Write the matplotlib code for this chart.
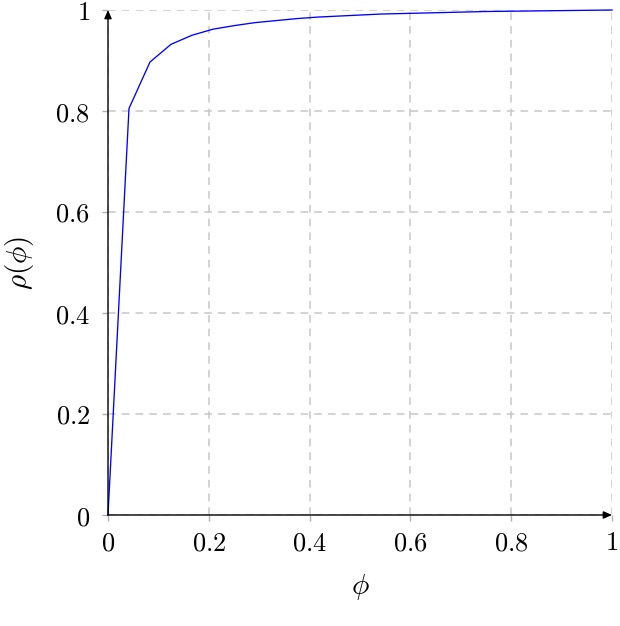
#!/usr/bin/env python3
"""Plot rho(phi) curve, pgfplots look."""

import matplotlib
matplotlib.use("Agg")
import matplotlib.pyplot as plt

# phi sampled in steps of 1/24
phi = [k / 24 for k in range(25)]
rho = [0.0, 0.805, 0.897, 0.932, 0.950, 0.962, 0.969, 0.975, 0.979,
       0.983, 0.986, 0.988, 0.990, 0.992, 0.993, 0.994, 0.995, 0.996,
       0.997, 0.9975, 0.998, 0.9985, 0.999, 0.9995, 1.0]

ticks = [0, 0.2, 0.4, 0.6, 0.8, 1]
tick_labels = ["$0$", "$0.2$", "$0.4$", "$0.6$", "$0.8$", "$1$"]

plt.rcParams["mathtext.fontset"] = "cm"
plt.rcParams["font.family"] = "DejaVu Serif"

fig = plt.figure(figsize=(6.2, 6.26), dpi=100)
ax = fig.add_axes([108 / 620, 1 - 515 / 626, 504 / 620, 505 / 626])

ax.plot(phi, rho, color="#0000ff", lw=0.95, zorder=3, clip_on=False)

ax.set_xlim(0, 1)
ax.set_ylim(0, 1)
ax.set_xticks(ticks)
ax.set_yticks(ticks)
ax.set_xticklabels(tick_labels, fontsize=19)
ax.set_yticklabels(tick_labels, fontsize=19)
ax.tick_params(direction="out", length=4, width=1, color="#b0b0b0")
ax.tick_params(axis="x", pad=7)
ax.tick_params(axis="y", pad=9)

ax.grid(True, color="#c8c8c8", lw=1.1, linestyle=(0, (5, 4)))
ax.set_axisbelow(True)

for s in ax.spines.values():
    s.set_visible(False)

# axis arrows
arrow = dict(arrowstyle="-|>,head_length=0.5,head_width=0.22", color="black",
             lw=1.0, shrinkA=0, shrinkB=0)
ax.annotate("", xy=(1.0, 0), xytext=(0, 0), xycoords="axes fraction",
            arrowprops=arrow, annotation_clip=False)
ax.annotate("", xy=(0, 1.0), xytext=(0, 0), xycoords="axes fraction",
            arrowprops=arrow, annotation_clip=False)

ax.set_xlabel(r"$\phi$", fontsize=21, labelpad=12)
ax.set_ylabel(r"$\rho(\phi)$", fontsize=21, labelpad=14)

fig.savefig("out.png", dpi=100)
